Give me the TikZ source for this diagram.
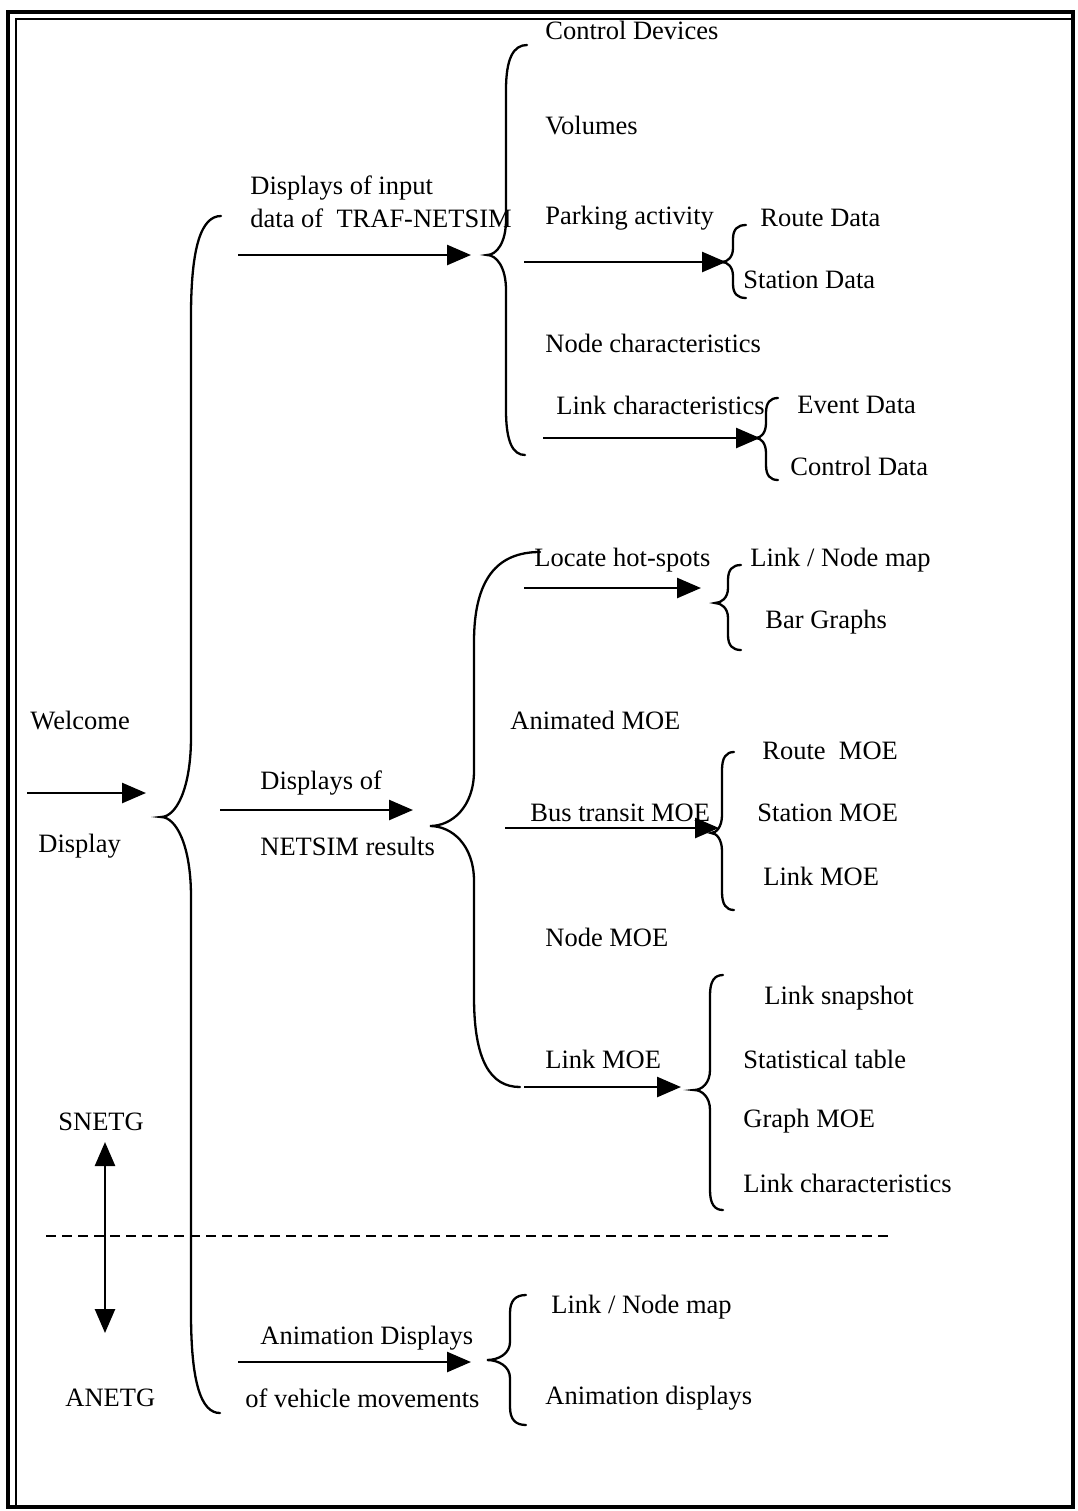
\documentclass[tikz,border=0pt]{standalone}
\usepackage{fontspec}
\setmainfont{Liberation Serif}
\usetikzlibrary{arrows.meta}
% #1 xv, #2 ytop, #3 xtopend, #4 xtip, #5 ytip, #6 ybot, #7 xbotend, #8 rEnd, #9 rTip
\newcommand{\mybrace}[9]{%
  \draw[brc] (#3,#2) .. controls ({#1+0.35*(#3-#1)},#2) and (#1,{#2+0.3*#8}) .. ({#1},{#2+#8})
    -- ({#1},{#5-#9})
    .. controls (#1,{#5-0.35*#9}) and ({#1-0.5*(#1-#4)},#5) .. (#4,#5)
    .. controls ({#1-0.5*(#1-#4)},#5) and (#1,{#5+0.35*#9}) .. ({#1},{#5+#9})
    -- ({#1},{#6-#8})
    .. controls (#1,{#6-0.3*#8}) and ({#1+0.35*(#7-#1)},#6) .. (#7,#6);}
\begin{document}
\begin{tikzpicture}[x=0.5pt,y=-0.5pt,
  lbl/.style={anchor=west,inner sep=0pt,font=\fontsize{13.25}{16}\selectfont},
  arr/.style={line width=1.3pt,-{Triangle[length=12pt,width=10pt]}},
  darr/.style={line width=1.3pt,{Triangle[length=12pt,width=10pt]}-{Triangle[length=12pt,width=10pt]}},
  brc/.style={line width=1.15pt,line cap=round}]
\useasboundingbox (0,0) rectangle (1077,1511);
% frame
\draw[line width=2pt] (8,12) rectangle (1073,1507);
\draw[line width=0.8pt] (16,1507) -- (16,19) -- (1073,19);

% labels
\node[lbl] (cd) at (545,30) {Control Devices};
\node[lbl] (vol) at (545,125) {Volumes};
\node[lbl] (din1) at (250,188) {Displays of input};
\node[lbl] (din2) at (250,218) {data of\ \ TRAF-NETSIM};
\node[lbl] (park) at (545,218) {Parking activity};
\node[lbl] (rd) at (760,218) {Route Data};
\node[lbl] (sd) at (743,280) {Station Data};
\node[lbl] (nc) at (545,343) {Node characteristics};
\node[lbl] (lc) at (556,405) {Link characteristics};
\node[lbl] (ed) at (797,405) {Event Data};
\node[lbl] (ctd) at (790,466) {Control Data};
\node[lbl] (hot) at (534,560) {Locate hot-spots};
\node[lbl] (lnm1) at (750,560) {Link / Node map};
\node[lbl] (bg) at (765,622) {Bar Graphs};
\node[lbl] (wel) at (30,720) {Welcome};
\node[lbl] (amoe) at (510,720) {Animated MOE};
\node[lbl] (rmoe) at (762,751) {Route\ \ MOE};
\node[lbl] (dr1) at (260,783) {Displays of};
\node[lbl] (bus) at (530,813) {Bus transit MOE};
\node[lbl] (smoe) at (757,813) {Station MOE};
\node[lbl] (disp) at (38,846) {Display};
\node[lbl] (dr2) at (260,846) {NETSIM results};
\node[lbl] (lmoe1) at (763,876) {Link MOE};
\node[lbl] (nmoe) at (545,937) {Node MOE};
\node[lbl] (lsnap) at (764,998) {Link snapshot};
\node[lbl] (lmoe2) at (545,1059) {Link MOE};
\node[lbl] (stat) at (743,1059) {Statistical table};
\node[lbl] (sn) at (58,1122) {SNETG};
\node[lbl] (gmoe) at (743,1121) {Graph MOE};
\node[lbl] (lc2) at (743,1183) {Link characteristics};
\node[lbl] (lnm2) at (551,1307) {Link / Node map};
\node[lbl] (ad1) at (260,1338) {Animation Displays};
\node[lbl] (an) at (65,1398) {ANETG};
\node[lbl] (ad2) at (245,1398) {of vehicle movements};
\node[lbl] (adsp) at (545,1398) {Animation displays};

% arrow end points
\coordinate (a1s) at (27,793);  \coordinate (a1e) at (146,793);
\coordinate (a2s) at (238,255); \coordinate (a2e) at (471,255);
\coordinate (a3s) at (524,262); \coordinate (a3e) at (726,262);
\coordinate (a4s) at (543,438); \coordinate (a4e) at (760,438);
\coordinate (a5s) at (220,810); \coordinate (a5e) at (413,810);
\coordinate (a6s) at (524,588); \coordinate (a6e) at (701,588);
\coordinate (a7s) at (505,828); \coordinate (a7e) at (719,828);
\coordinate (a8s) at (524,1087); \coordinate (a8e) at (681,1087);
\coordinate (a9s) at (238,1362); \coordinate (a9e) at (471,1362);
\coordinate (d1) at (105,1142); \coordinate (d2) at (105,1333);
\coordinate (h1) at (46,1236); \coordinate (h2) at (888,1236);

\draw[arr] (a1s) -- (a1e);
\draw[arr] (a2s) -- (a2e);
\draw[arr] (a3s) -- (a3e);
\draw[arr] (a4s) -- (a4e);
\draw[arr] (a5s) -- (a5e);
\draw[arr] (a6s) -- (a6e);
\draw[arr] (a7s) -- (a7e);
\draw[arr] (a8s) -- (a8e);
\draw[arr] (a9s) -- (a9e);
\draw[darr] (d1) -- (d2);
\draw[line width=1pt,dash pattern=on 5pt off 3pt] (h1) -- (h2);

% braces
\mybrace{191}{216}{221}{161}{817}{1413}{220}{100}{80}
\mybrace{506}{45}{527}{487}{255}{455}{525}{45}{35}
\mybrace{733}{225}{746}{722}{262}{298}{746}{14}{14}
\mybrace{766}{398}{778}{756}{438}{480}{778}{15}{15}
\mybrace{474}{552}{540}{430}{826}{1087}{520}{90}{55}
\mybrace{728}{565}{741}{715}{603}{650}{741}{15}{15}
\mybrace{722}{752}{734}{711}{833}{910}{734}{18}{18}
\mybrace{710}{975}{723}{694}{1090}{1210}{723}{20}{20}
\mybrace{510}{1295}{526}{487}{1360}{1425}{526}{18}{18}
\end{tikzpicture}
\end{document}
